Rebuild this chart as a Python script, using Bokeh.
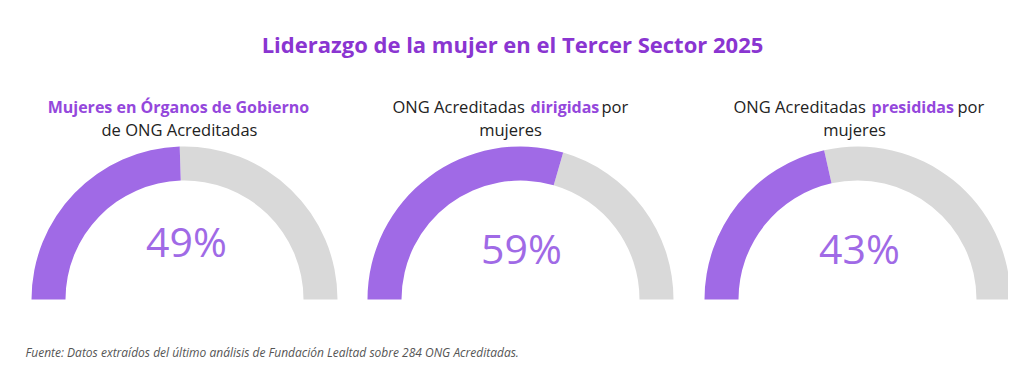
import math
from bokeh.plotting import figure
from bokeh.models import Range1d, ColumnDataSource
from bokeh.core.properties import value
from bokeh.embed import file_html
from bokeh.resources import INLINE

# ---- data ----
indicators = ["Mujeres en Órganos de Gobierno de ONG Acreditadas",
              "ONG Acreditadas dirigidas por mujeres",
              "ONG Acreditadas presididas por mujeres"]
values = [49, 59, 43]
value_labels = ["49%", "59%", "43%"]

title = "Liderazgo de la mujer en el Tercer Sector 2025"
source_note = "Fuente: Datos extraídos del último análisis de Fundación Lealtad sobre 284 ONG Acreditadas."

# ---- style ----
PURPLE_ARC = "#a06ae6"
GREY_ARC = "#d9d9d9"
TITLE_COL = "#8a35d1"
BOLD_COL = "#9447dc"
DARK = "#222222"
FONT = "Open Sans"

W, H = 1008, 364
p = figure(width=W, height=H, x_range=Range1d(0, W), y_range=Range1d(380 - H, 380),
           output_backend="svg", toolbar_location=None, min_border=0,
           x_axis_location=None, y_axis_location=None)
p.grid.visible = False
p.outline_line_color = None
p.background_fill_color = "white"
p.border_fill_color = "white"

def Y(py):
    return 380 - py

cx = [184, 520, 857]
cy = [Y(299)] * 3
frac = [v / 100 for v in values]

purple = ColumnDataSource(dict(x=cx, y=cy, start=[math.pi * (1 - f) for f in frac],
                               end=[math.pi] * 3))
grey = ColumnDataSource(dict(x=cx, y=cy, start=[0.0] * 3,
                             end=[math.pi * (1 - f) for f in frac]))
for src, col in ((grey, GREY_ARC), (purple, PURPLE_ARC)):
    p.annular_wedge(x="x", y="y", inner_radius=119, outer_radius=153,
                    inner_radius_units="screen", outer_radius_units="screen",
                    start_angle="start", end_angle="end", direction="anticlock",
                    source=src, fill_color=col, line_color=None)

# value labels
vsrc = ColumnDataSource(dict(x=[186, 521, 859], y=[Y(240), Y(247), Y(247)], t=value_labels))
p.text(x="x", y="y", text="t", source=vsrc, text_font=value(FONT), text_font_size="41px",
       text_color=PURPLE_ARC, text_align="center", text_baseline="middle")

# title
p.text(x=[512], y=[Y(43)], text=[title], text_font=value(FONT), text_font_size="22px",
       text_font_style="bold", text_color=TITLE_COL, text_align="center", text_baseline="middle")

def seg(x, py, t, bold=False, align="left"):
    p.text(x=[x], y=[Y(py)], text=[t], text_font=value(FONT),
           text_font_size="16px" if bold else "16.5px",
           text_font_style="bold" if bold else "normal",
           text_color=BOLD_COL if bold else DARK, text_align=align, text_baseline="middle")

# subtitle 1
seg(180, 106, "Mujeres en  Órganos de Gobierno", bold=True, align="center")
seg(179, 129, "de ONG Acreditadas", align="center")
# subtitle 2
seg(392, 106, "ONG Acreditadas")
seg(530, 106, "dirigidas", bold=True)
seg(601, 106, "por")
seg(510, 129, "mujeres", align="center")
# subtitle 3
seg(733, 106, "ONG Acreditadas")
seg(871, 106, "presididas", bold=True)
seg(957, 106, "por")
seg(854, 129, "mujeres", align="center")

# source note
p.text(x=[25], y=[Y(352)], text=[source_note], text_font=value(FONT), text_font_size="12px",
       text_font_style="italic", text_color="#555555", text_align="left", text_baseline="middle")

open("out.html", "w").write(file_html(p, INLINE))
